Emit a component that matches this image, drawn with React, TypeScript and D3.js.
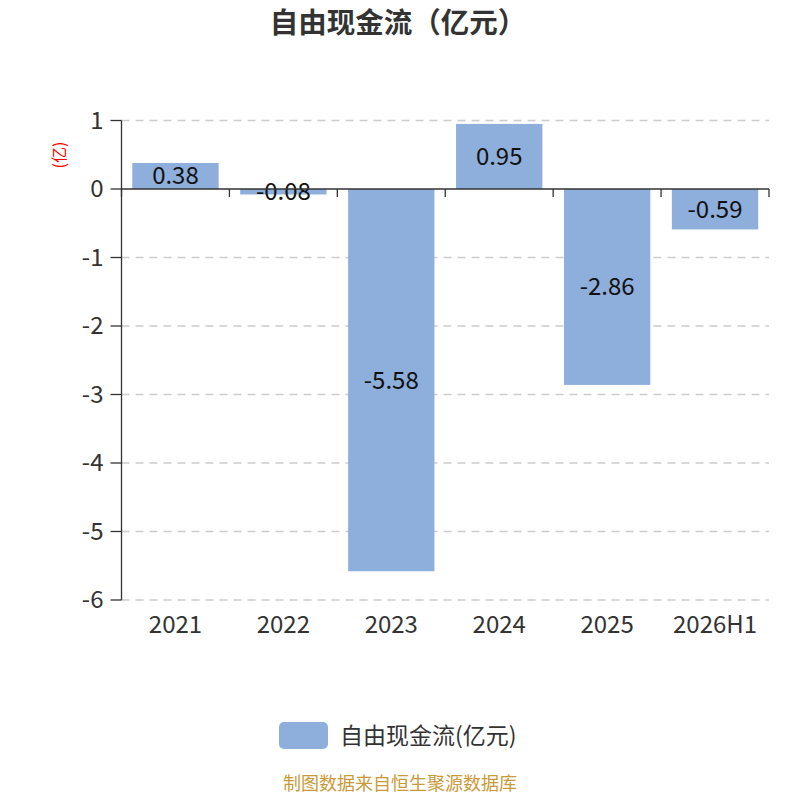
import React from "react";
import * as d3 from "d3";

const categories = ["2021", "2022", "2023", "2024", "2025", "2026H1"];
const values = [0.38, -0.08, -5.58, 0.95, -2.86, -0.59];
const yTicks = [1, 0, -1, -2, -3, -4, -5, -6];
const title = "自由现金流（亿元）";
const seriesName = "自由现金流(亿元)";
const unitLabel = "(亿)";
const source = "制图数据来自恒生聚源数据库";

const W = 800;
const H = 800;
const left = 121.5;
const right = 769;
const top = 120.5;
const bottom = 600;
const font = "'Noto Sans CJK SC', 'Noto Sans', sans-serif";

export default function App() {
  const x = d3.scaleBand<string>().domain(categories).range([left, right]).paddingInner(0.2).paddingOuter(0.1);
  const xb = d3.scaleBand<string>().domain(categories).range([left, right]);
  const y = d3.scaleLinear().domain([-6, 1]).range([bottom, top]);
  const y0 = y(0);
  return (
    <svg width={W} height={H} style={{ position: "absolute", left: 0, top: 0, background: "#fff" }} fontFamily={font}>
      <text x={398} y={33} textAnchor="middle" fontSize={28.5} fontWeight="bold" fill="#333">{title}</text>
      {yTicks.map((t) => (
        <g key={t}>
          {t !== 0 && (
            <line x1={left} x2={right} y1={y(t)} y2={y(t)} stroke="#ccc" strokeDasharray="8,6" strokeWidth={1.3} />
          )}
          <line x1={left - 11} x2={left} y1={y(t)} y2={y(t)} stroke="#333" strokeWidth={1.3} />
          <text x={left - 18} y={y(t)} dy="0.35em" textAnchor="end" fontSize={24} fill="#333">{t}</text>
        </g>
      ))}
      <text transform={`translate(59,155) rotate(-90)`} textAnchor="middle" fontSize={16} fill="#f00" dy="0.35em">{unitLabel}</text>
      {categories.map((c, i) => {
        const v = values[i];
        const yt = y(Math.max(v, 0));
        const yb = y(Math.min(v, 0));
        return (
          <g key={c}>
            <rect x={x(c)} y={yt} width={x.bandwidth()} height={yb - yt} fill="#8eaedb" />
            <text x={(x(c) as number) + x.bandwidth() / 2} y={(yt + yb) / 2} dy="0.35em" textAnchor="middle" fontSize={24} fill="#111">{v.toFixed(2)}</text>
            <text x={(xb(c) as number) + xb.bandwidth() / 2} y={625} dy="0.35em" textAnchor="middle" fontSize={24} fill="#333">{c}</text>
          </g>
        );
      })}
      <line x1={left} x2={left} y1={top} y2={bottom} stroke="#333" strokeWidth={1.3} />
      <line x1={left} x2={right} y1={y0} y2={y0} stroke="#333" strokeWidth={1.3} />
      {categories.concat([""]).map((c, i) => {
        const xx = left + i * xb.bandwidth();
        return <line key={i} x1={xx} x2={xx} y1={y0} y2={y0 + 8} stroke="#333" strokeWidth={1.3} />;
      })}
      <rect x={279} y={722} width={49} height={27} rx={5} fill="#8eaedb" />
      <text x={340} y={736} dy="0.35em" fontSize={23} fill="#333">{seriesName}</text>
      <text x={400} y={790} textAnchor="middle" fontSize={18} fill="#c99a3a">{source}</text>
    </svg>
  );
}
